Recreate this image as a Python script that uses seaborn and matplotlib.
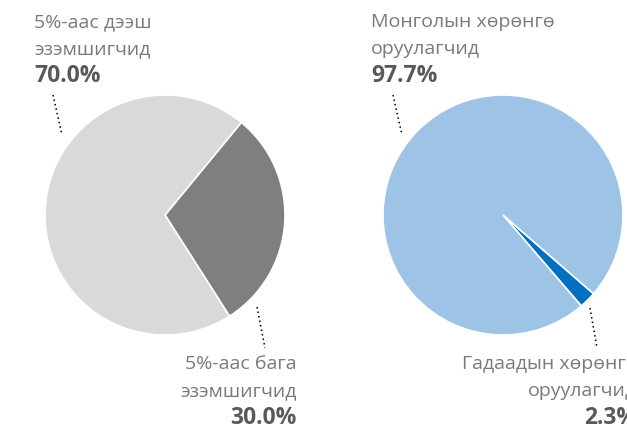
import matplotlib.pyplot as plt
from matplotlib.lines import Line2D
import seaborn as sns

# data
own_labels = ['5%-аас бага\nэзэмшигчид', '5%-аас дээш\nэзэмшигчид']
own_values = [30.0, 70.0]
inv_labels = ['Гадаадын хөрөнгө\nоруулагчид', 'Монголын хөрөнгө\nоруулагчид']
inv_values = [2.3, 97.7]

own_colors = ['#7f7f7f', '#d9d9d9']
inv_colors = ['#0070c0', '#9dc3e6']

sns.set_theme(style='white')
plt.rcParams['font.family'] = ['Open Sans', 'DejaVu Sans']

W, H = 627, 430
fig = plt.figure(figsize=(W / 100, H / 100), dpi=100)

def px(x, y):
    return x / W, 1 - y / H

def add_pie(left, values, colors, start):
    ax = fig.add_axes([left / W, 95 / H, 240 / W, 240 / H])
    ax.pie(values, colors=colors, startangle=start, counterclock=False,
           radius=1, wedgeprops={'edgecolor': 'white', 'linewidth': 1.2})
    ax.set_xlim(-1, 1)
    ax.set_ylim(-1, 1)
    ax.set_aspect('auto')
    ax.axis('off')
    return ax

add_pie(45, own_values, own_colors, 50.5)
add_pie(383, inv_values, inv_colors, 90 - 131.0)

lab_col = '#7a7a7a'
pct_col = '#595959'

def label(x, y, name, val, ha):
    lines = name.split('\n')
    for i, t in enumerate(lines):
        fig.text(*px(x, y + 27 * i), t, ha=ha, va='center', fontsize=14, color=lab_col)
    fig.text(*px(x, y + 27 * len(lines)), f'{val:.1f}%', ha=ha, va='center',
             fontsize=16.5, fontweight='bold', color=pct_col)

def leader(x0, y0, x1, y1):
    (a, b), (c, d) = px(x0, y0), px(x1, y1)
    fig.add_artist(Line2D([a, c], [b, d], color='black', linestyle=(0, (1, 2)), linewidth=1.1))

label(34, 22, own_labels[1], own_values[1], 'left')
label(297, 364, own_labels[0], own_values[0], 'right')
label(371, 22, inv_labels[1], inv_values[1], 'left')
label(637, 364, inv_labels[0], inv_values[0], 'right')

leader(53, 95, 62, 135)
leader(257, 307, 265, 348)
leader(393, 95, 402, 135)
leader(590, 308, 597, 348)

fig.savefig('out.png', dpi=100)
